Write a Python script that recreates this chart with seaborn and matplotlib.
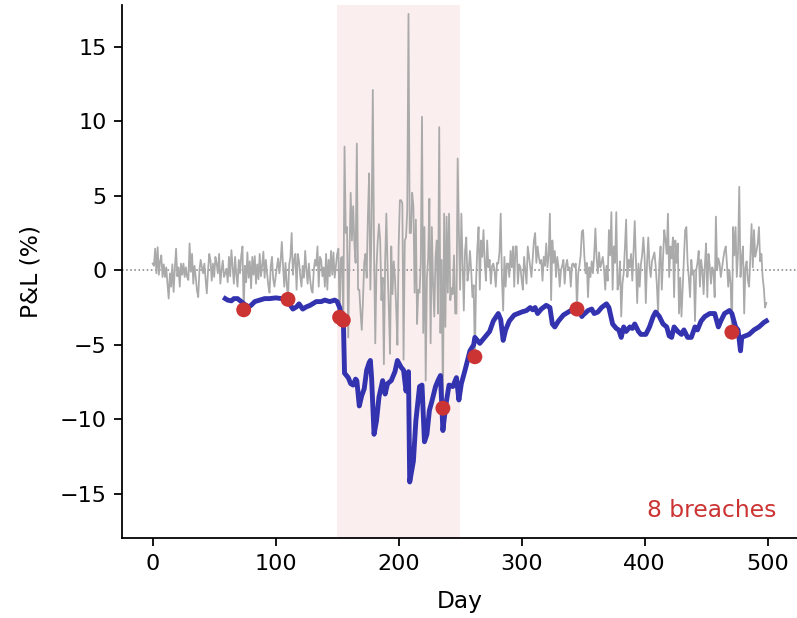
import numpy as np
import pandas as pd
import matplotlib
matplotlib.use("Agg")
import matplotlib.pyplot as plt
import seaborn as sns

# daily P&L in %, day 0..499
pnl = [
    0.45, 0.3, 1.45, -0.2, 1.55, -0.3, 0.6, 1.0, -0.45, 0.4,
    -0.45, 0.2, -0.9, -1.9, -0.2, -1.1, 0.4, -1.45, 0.1, 1.45,
    -0.4, 0.2, -1.1, 0.45, -0.3, 0.45, -0.45, 0.2, -0.45, -0.65,
    1.8, -0.1, 1.1, -0.9, 0.3, -0.45, -1.35, -1.8, 0.0, 0.7,
    0.2, -0.2, 0.45, -0.6, -1.55, 0.0, 1.1, 0.65, -0.7, 0.45,
    -0.45, 0.9, 0.45, -0.2, 1.1, -0.9, 0.0, 0.65, -0.45, -0.2,
    0.1, -0.8, 0.9, -0.4, 1.35, 0.2, -0.9, 0.9, -0.3, -1.1,
    0.7, -0.2, 1.0, 1.6, -2.65, 0.3, -0.8, 1.2, -0.5, 0.6,
    -1.2, 0.9, -0.3, 0.95, -0.9, 0.4, -0.6, 1.1, -0.4, 0.3,
    1.25, -0.5, 0.7, -0.2, -1.0, -1.5, 0.3, 0.9, -0.6, -1.1,
    -0.4, 0.2, 0.8, -0.2, 0.6, 1.9, 0.3, -1.1, 0.5, -0.9,
    -1.95, 0.4, 0.9, 2.5, -0.3, 0.7, 1.1, -1.3, 1.1, 0.6,
    -0.4, -1.1, 0.3, -0.5, 1.3, 0.0, -0.9, 0.45, -0.6, -1.3,
    -1.5, 0.0, 0.7, 0.3, 1.6, -1.1, 0.9, 0.7, -0.4, 0.2,
    -1.1, 1.1, -1.3, 0.7, -0.4, 1.3, -0.3, 1.2, -0.5, 0.3,
    1.1, 1.45, -3.15, 0.8, 0.9, -3.35, 8.3, 2.5, 2.9, -4.5,
    1.0, 5.2, 2.0, 4.3, 1.8, 0.5, 8.5, -1.3, -1.3, -2.8,
    -4.0, -2.0, 0.5, 1.1, -0.5, 3.6, 6.5, -1.3, 3.0, 12.1,
    1.3, -4.9, 0.2, 2.0, 3.1, 2.0, -2.0, -0.5, -6.3, 0.5,
    3.8, 0.2, -2.5, -5.6, 1.6, -1.6, 0.6, -0.5, -2.5, -5.0,
    1.6, 4.7, 4.7, 4.5, -6.0, 2.0, 2.2, 4.0, 17.2, 2.5,
    2.5, 5.2, 4.3, -1.5, 3.4, -3.6, -1.3, -1.5, 0.5, 10.3,
    -4.2, 2.9, -7.4, -0.45, 0.8, 4.8, -4.9, 2.9, -1.0, -3.1,
    0.9, 2.0, -2.9, 9.6, -4.2, 0.7, -9.25, 3.8, -3.8, 3.6,
    -1.5, 3.8, -2.0, -1.2, -1.6, 1.0, -2.9, -2.9, 7.5, 2.5,
    -1.3, 3.8, 0.5, -2.7, 1.3, 2.2, -0.7, 0.0, 1.3, 0.0,
    -1.8, -1.0, -5.8, -0.7, 1.5, 2.9, -1.3, 2.0, 0.9, 2.7,
    0.5, -0.7, 2.0, 0.2, 0.7, -0.9, 0.3, 0.45, 0.0, -1.1,
    0.5, 0.45, 1.2, 3.8, -0.5, -2.7, 0.9, -1.1, 0.45, 0.45,
    -0.45, 1.3, 0.2, 1.6, -1.1, 1.6, 1.6, -0.9, 0.4, 0.2,
    -0.6, -1.3, 0.9, 0.0, -0.9, 1.6, 0.9, 0.2, -0.45, 0.8,
    2.0, 2.5, 0.5, 1.6, 0.9, 0.45, 0.7, -0.7, 0.9, 0.3,
    1.8, 0.2, 1.0, 3.8, -2.0, 2.0, 0.5, 1.3, -0.45, 0.9,
    0.2, -1.1, 0.0, 0.3, 0.7, -0.9, 0.3, 0.7, 0.0, 0.2,
    -1.1, 0.4, 0.45, 0.2, 0.45, -2.6, -0.2, 0.3, 1.0, 2.6,
    2.7, 1.0, -0.2, 0.5, -1.8, 0.2, -0.45, 0.6, -0.2, 1.0,
    2.8, 0.8, -0.2, 1.2, 0.2, 0.5, 0.9, 0.1, -1.3, 0.3,
    -0.7, 2.7, 1.0, 3.9, -1.3, 1.6, 0.5, 3.9, -1.3, -0.9,
    0.6, -3.1, -0.9, -0.2, 1.5, 3.4, -0.45, 0.7, 0.2, 1.1,
    -0.7, 1.2, 3.3, 0.5, -2.2, 0.45, -1.1, 0.4, 1.0, 2.2,
    0.9, -2.2, 0.5, 2.2, 0.3, -0.45, 0.6, 0.9, 1.2, 0.3,
    -1.0, -2.9, 0.5, 1.6, -1.3, 0.8, 2.7, 2.0, 1.1, 3.8,
    -0.45, 1.6, 0.8, 2.2, -1.8, 2.0, 0.5, 1.8, -2.9, -0.5,
    -3.1, -1.1, 0.8, 2.7, 2.9, 0.45, -0.5, -1.8, 0.7, -0.3,
    0.0, -3.4, 0.0, 0.5, 1.3, -1.1, 0.7, 0.0, -1.6, 0.3,
    1.8, -1.8, 1.1, 0.3, -0.9, 0.2, 0.0, -1.8, 3.6, 0.0,
    0.8, 0.45, -0.45, 0.2, 0.8, 1.3, 1.6, 0.4, -1.1, 0.0,
    -0.9, -4.15, 2.9, 1.0, 2.9, -0.45, 1.2, 5.6, -0.45, 0.8,
    1.6, -2.9, 0.2, 0.6, -0.7, -1.1, 0.9, 3.1, 0.2, 2.7,
    0.9, 1.3, 1.8, 2.9, 0.6, 1.1, -0.45, -1.2, -2.5, -2.2,
]
days = np.arange(len(pnl))

# rolling VaR line (read at the days where it turns)
var_days = [59, 61, 64, 66, 69, 72, 75, 78, 80, 83,
            87, 91, 95, 100, 105, 109, 110, 112, 114, 117,
            119, 122, 125, 128, 130, 133, 137, 140, 144, 148,
            150, 152, 154, 155, 156, 157, 159, 161, 163, 165,
            166, 168, 170, 172, 174, 176, 177, 178, 180, 182,
            184, 187, 189, 191, 194, 197, 199, 202, 204, 206,
            208, 209, 212, 214, 217, 219, 221, 223, 225, 227,
            230, 232, 234, 236, 237, 239, 241, 244, 247, 249,
            251, 254, 258, 261, 262, 266, 270, 274, 277, 281,
            283, 285, 287, 290, 294, 300, 304, 307, 309, 311,
            313, 316, 320, 323, 325, 327, 330, 334, 338, 342,
            346, 349, 350, 354, 357, 359, 362, 365, 369, 371,
            374, 377, 379, 381, 383, 385, 388, 390, 392, 395,
            397, 401, 404, 407, 409, 412, 415, 418, 420, 422,
            424, 427, 430, 432, 435, 438, 441, 443, 446, 449,
            453, 457, 460, 462, 465, 469, 471, 474, 476, 478,
            479, 482, 485, 489, 493, 497, 499]
var_vals = [-1.9, -2.0, -2.05, -1.9, -1.9, -2.1, -2.3, -2.45, -2.35, -2.1,
            -2.0, -1.9, -1.9, -1.85, -1.9, -1.9, -1.9, -2.35, -2.6, -2.45,
            -2.25, -2.6, -2.45, -2.35, -2.25, -2.1, -2.1, -2.0, -2.1, -2.0,
            -2.1, -2.5, -3.3, -3.2, -6.9, -7.0, -7.2, -7.6, -7.7, -7.3,
            -7.4, -9.1, -8.4, -7.95, -6.7, -6.2, -6.05, -7.2, -11.0, -10.1,
            -8.5, -7.4, -8.3, -7.6, -7.4, -6.8, -6.05, -6.5, -6.7, -8.1,
            -6.8, -14.2, -12.8, -10.1, -7.8, -7.7, -11.5, -11.0, -9.4, -8.8,
            -7.8, -7.4, -7.06, -10.75, -10.0, -8.7, -7.7, -7.8, -7.2, -8.7,
            -7.6, -6.7, -5.4, -5.0, -4.5, -4.9, -4.5, -4.1, -3.4, -2.9,
            -3.3, -4.7, -4.0, -3.4, -3.0, -2.8, -2.7, -2.5, -2.65, -2.5,
            -2.9, -2.6, -2.35, -2.5, -3.6, -3.8, -3.4, -3.0, -2.8, -2.6,
            -2.6, -3.1, -3.0, -2.7, -2.6, -2.9, -2.8, -2.5, -2.25, -2.5,
            -3.6, -3.9, -4.0, -4.5, -3.8, -4.1, -3.8, -3.9, -3.6, -4.1,
            -4.3, -4.3, -3.8, -3.1, -2.8, -3.1, -3.6, -3.8, -4.4, -4.5,
            -3.8, -4.1, -4.3, -4.0, -4.5, -4.5, -3.8, -4.0, -3.4, -3.1,
            -2.9, -2.9, -3.8, -3.4, -2.9, -2.7, -2.9, -3.8, -4.0, -5.4,
            -4.5, -4.4, -4.3, -4.0, -3.8, -3.5, -3.4]

breach_days = [74, 110, 152, 155, 236, 262, 345, 471]
stress_start, stress_end = 150, 250

df = pd.DataFrame({"day": days, "pnl": pnl})
var_df = pd.DataFrame({"day": var_days, "var": var_vals})
br = df.loc[breach_days]

fig, ax = plt.subplots(figsize=(797 / 160, 618 / 160), dpi=160)
fig.subplots_adjust(left=0.1531, right=1.0, bottom=0.1294, top=0.992)

ax.axvspan(stress_start, stress_end, color="#d62728", alpha=0.08, lw=0, zorder=0)
ax.axhline(0, color="gray", ls=":", lw=0.7, zorder=1)
sns.lineplot(data=df, x="day", y="pnl", ax=ax, color="#aaaaaa", lw=0.8, zorder=2)
sns.lineplot(data=var_df, x="day", y="var", ax=ax, color="#3333b0", lw=2.2, zorder=3)
sns.scatterplot(data=br, x="day", y="pnl", ax=ax, color="#cc3333", s=45,
                edgecolor="none", zorder=4)

ax.text(0.97, 0.03, f"{len(breach_days)} breaches", transform=ax.transAxes,
        ha="right", va="bottom", color="#cc3333", fontsize=10.5)

ax.set_ylim(-17.96, 17.8)
ax.set_xlabel("Day", fontsize=10.5, labelpad=7.5)
ax.set_ylabel("P&L (%)", fontsize=10.5, labelpad=7.5)
sns.despine(ax=ax)

fig.savefig("out.png", dpi=160)
